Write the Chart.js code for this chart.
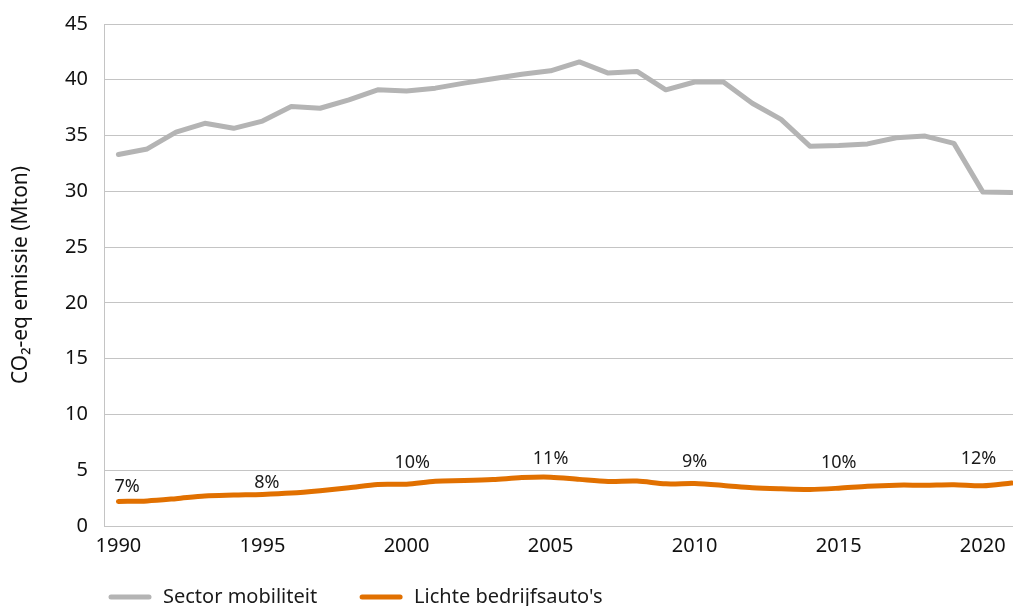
<!DOCTYPE html>
<html>
<head>
<meta charset="utf-8">
<script src="https://cdn.jsdelivr.net/npm/chart.js@4.4.1/dist/chart.umd.min.js"></script>
<style>
  html, body { margin: 0; padding: 0; background: #ffffff; overflow: hidden; }
  #wrap { width: 1013px; height: 606px; position: relative; }
</style>
</head>
<body>
<div id="wrap"><canvas id="c"></canvas></div>
<script>
// ---- data ----
const years = [1990, 1991, 1992, 1993, 1994, 1995, 1996, 1997, 1998, 1999,
               2000, 2001, 2002, 2003, 2004, 2005, 2006, 2007, 2008, 2009,
               2010, 2011, 2012, 2013, 2014, 2015, 2016, 2017, 2018, 2019,
               2020, 2021];
const sectorMobiliteit = [33.3, 33.8, 35.3, 36.1, 35.65, 36.3, 37.6, 37.45, 38.2, 39.1,
                          39.0, 39.25, 39.7, 40.1, 40.5, 40.8, 41.6, 40.6, 40.75, 39.1,
                          39.8, 39.8, 37.9, 36.45, 34.05, 34.1, 34.25, 34.8, 34.95, 34.3,
                          29.95, 29.9];
const lichteBedrijfsautos = [2.2, 2.25, 2.45, 2.69, 2.77, 2.83, 2.95, 3.16, 3.42, 3.72,
                             3.75, 4.02, 4.07, 4.16, 4.34, 4.38, 4.18, 4.0, 4.03, 3.78,
                             3.8, 3.64, 3.43, 3.33, 3.27, 3.39, 3.57, 3.66, 3.66, 3.7,
                             3.6, 3.85];
const xTickYears = [1990, 1995, 2000, 2005, 2010, 2015, 2020];
const yTicks = [0, 5, 10, 15, 20, 25, 30, 35, 40, 45];
// share labels (text) with their anchor in data units (year, Mton)
const pctTexts = ['7%', '8%', '10%', '11%', '9%', '10%', '12%'];
const pctAnchorX = [1990.3, 1995.15, 2000.2, 2005, 2010, 2015, 2019.85];
const pctAnchorY = [3.5, 3.85, 5.65, 6.0, 5.74, 5.65, 6.0];

const seriesNames = ['Sector mobiliteit', "Lichte bedrijfsauto's"];
const seriesColors = ['#b4b4b4', '#e17000'];
const yTitle = 'CO\u2082-eq emissie (Mton)';

const FONT = '"Noto Sans", "Open Sans", sans-serif';
const GRID = '#c4c4c4';

const toPoints = arr => arr.map((v, i) => ({ x: years[i], y: v }));

const pctPlugin = {
  id: 'pctLabels',
  afterDatasetsDraw(chart) {
    const { ctx, scales } = chart;
    ctx.save();
    ctx.font = '18px ' + FONT;
    ctx.fillStyle = '#1a1a1a';
    ctx.textAlign = 'center';
    ctx.textBaseline = 'middle';
    pctTexts.forEach((t, i) => {
      ctx.fillText(t, scales.x.getPixelForValue(pctAnchorX[i]), scales.y.getPixelForValue(pctAnchorY[i]));
    });
    ctx.restore();
  }
};

const legendPlugin = {
  id: 'customLegend',
  afterDraw(chart) {
    const { ctx, chartArea } = chart;
    ctx.save();
    ctx.font = '20px ' + FONT;
    ctx.textBaseline = 'middle';
    ctx.textAlign = 'left';
    const y = chart.height - 9;
    let x = chartArea.left + 7;
    seriesNames.forEach((name, i) => {
      ctx.strokeStyle = seriesColors[i];
      ctx.lineWidth = 5;
      ctx.lineCap = 'round';
      ctx.beginPath();
      ctx.moveTo(x, y);
      ctx.lineTo(x + 38, y);
      ctx.stroke();
      const tx = x + 52;
      ctx.fillStyle = '#1a1a1a';
      ctx.fillText(name, tx, y);
      x = tx + ctx.measureText(name).width + 45;
    });
    ctx.restore();
  }
};

new Chart(document.getElementById('c'), {
  type: 'line',
  data: {
    datasets: [
      {
        label: seriesNames[0],
        data: toPoints(sectorMobiliteit),
        borderColor: seriesColors[0],
        backgroundColor: seriesColors[0],
        borderWidth: 5,
        pointRadius: 0,
        tension: 0,
        borderCapStyle: 'round',
        borderJoinStyle: 'round'
      },
      {
        label: seriesNames[1],
        data: toPoints(lichteBedrijfsautos),
        borderColor: seriesColors[1],
        backgroundColor: seriesColors[1],
        borderWidth: 5,
        pointRadius: 0,
        tension: 0.3,
        borderCapStyle: 'round',
        borderJoinStyle: 'round'
      }
    ]
  },
  options: {
    responsive: true,
    maintainAspectRatio: false,
    animation: false,
    layout: { padding: { top: 24, right: 0, bottom: 46, left: 0 } },
    plugins: {
      legend: { display: false },
      tooltip: { enabled: false }
    },
    scales: {
      x: {
        type: 'linear',
        min: 1989.5,
        max: 2021.05,
        afterBuildTicks(scale) { scale.ticks = xTickYears.map(v => ({ value: v })); },
        afterFit(scale) { scale.height = 34; scale.paddingRight = 0; },
        grid: { display: false, drawTicks: false },
        border: { display: true, color: GRID, width: 1 },
        ticks: {
          padding: 8,
          color: '#111',
          font: { family: FONT, size: 20 },
          callback: v => String(v),
          autoSkip: false,
          maxRotation: 0
        }
      },
      y: {
        min: 0,
        max: 45,
        afterBuildTicks(scale) { scale.ticks = yTicks.map(v => ({ value: v })); },
        afterFit(scale) { scale.width = 104; scale.paddingTop = 0; scale.paddingBottom = 0; },
        grid: { color: GRID, lineWidth: 1, drawTicks: false },
        border: { display: true, color: GRID, width: 1 },
        ticks: {
          padding: 16,
          color: '#111',
          font: { family: FONT, size: 20 }
        },
        title: {
          display: true,
          text: yTitle,
          color: '#111',
          font: { family: FONT, size: 21 },
          padding: { top: 8, bottom: 0 }
        }
      }
    }
  },
  plugins: [pctPlugin, legendPlugin]
});
</script>
</body>
</html>
